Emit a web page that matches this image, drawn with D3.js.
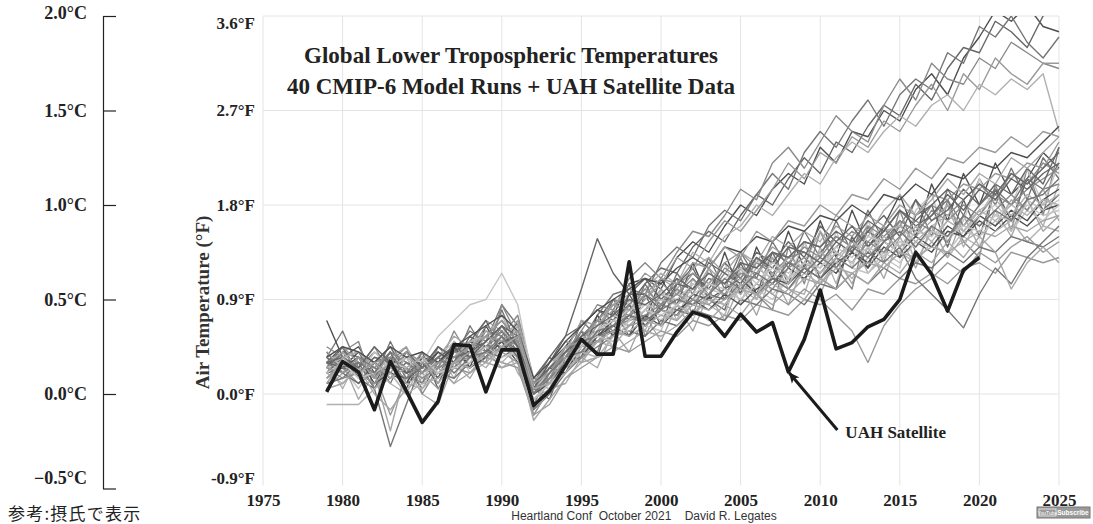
<!DOCTYPE html>
<html>
<head>
<meta charset="utf-8">
<script src="https://cdn.jsdelivr.net/npm/d3@7"></script>
<style>
  body { margin: 0; background: #fff; }
  svg { display: block; }
</style>
</head>
<body>
<svg id="chart" width="1093" height="524"></svg>
<script>
// ---- data (°F anomalies) ----
const firstYear = 1979;
const xTicks = [1975, 1980, 1985, 1990, 1995, 2000, 2005, 2010, 2015, 2020, 2025];
const fTicks = [-0.9, 0.0, 0.9, 1.8, 2.7, 3.6];
const cTicks = [-0.5, 0.0, 0.5, 1.0, 1.5, 2.0];

// UAH satellite, 1979-2020
const uah = [
  0.02, 0.31, 0.21, -0.15, 0.31, 0.03, -0.27, -0.07, 0.47, 0.46,
  0.02, 0.42, 0.42, -0.11, 0.03, 0.27, 0.52, 0.38, 0.38, 1.26,
  0.36, 0.36, 0.59, 0.78, 0.73, 0.55, 0.76, 0.59, 0.68, 0.21,
  0.52, 0.99, 0.43, 0.49, 0.64, 0.71, 0.90, 1.35, 1.14, 0.79,
  1.18, 1.30
];

// 40 CMIP-6 runs, 1979-2025
const modelRuns = [
  [.30,.45,.20,.10,.35,.25,.05,.30,.45,.40, .55,.70,.50,.05,.20,.45,.65,.80,.75,1.05, 1.10,1.00,1.30,1.45,1.35,1.60,1.80,1.70,1.95,2.10, 2.00,2.35,2.20,2.50,2.45,2.70,2.60,2.90,3.05,2.85, 3.20,3.40,3.65,3.55,3.70,3.50,3.45],
  [.20,.35,.40,.15,.30,.10,.20,.40,.30,.55, .45,.60,.35,.00,.25,.35,.55,.70,.90,.85, 1.05,1.20,1.15,1.40,1.55,1.45,1.70,1.90,1.80,2.05, 2.25,2.10,2.40,2.30,2.55,2.75,2.65,2.95,2.80,3.10, 3.30,3.25,3.55,3.45,3.30,3.60,3.80],
  [.40,.25,.35,.30,.10,.40,.30,.15,.40,.60, .50,.85,.65,.10,.15,.40,.50,.75,.95,1.00, .95,1.25,1.40,1.30,1.60,1.75,1.65,1.90,2.10,1.95, 2.30,2.50,2.35,2.60,2.80,2.55,2.85,3.00,2.90,3.25, 3.15,3.50,3.40,3.60,3.35,3.20,3.40],
  [.15,.30,.25,.45,.20,.15,.35,.25,.50,.35, .60,.55,.75,.15,.10,.30,.60,.85,.80,1.10, 1.25,1.10,1.35,1.55,1.50,1.70,1.95,1.85,2.20,2.35, 2.15,2.40,2.65,2.50,2.40,2.75,3.00,2.80,3.15,3.00, 2.95,3.20,3.10,3.35,3.25,3.15,3.10],
  [.35,.20,.30,.05,.25,.35,.10,.30,.40,.45, .70,.60,.40,.05,.30,.50,.45,.70,.85,.95, 1.15,1.05,1.30,1.20,1.45,1.65,1.55,1.75,1.95,2.20, 2.05,2.30,2.20,2.45,2.35,2.60,2.50,2.75,2.95,2.70, 3.05,2.90,3.20,3.05,2.95,3.15,3.15],
  [.25,.40,.15,.20,.40,.30,.20,.35,.25,.50, .55,.75,.45,.10,.05,.40,.55,.60,.90,.80, 1.00,1.15,1.05,1.35,1.25,1.50,1.60,1.80,1.70,1.90, 2.10,2.00,2.25,2.40,2.30,2.50,2.65,2.55,2.75,2.85, 2.70,2.95,2.85,3.00,2.90,3.05,2.50],
  [.35,.60,.25,.15,.50,.20,.10,.45,.30,.65, .40,.80,.45,.10,.35,.25,.70,.55,.90,.70, 1.05,.80,1.15,.95,1.30,1.00,1.35,1.10,1.45,1.20, 1.55,1.30,1.65,1.35,1.75,1.45,1.60,1.85,1.50,1.95, 1.70,2.05,1.80,2.15,1.85,2.25,2.05],
  [.10,.30,-.05,.20,-.35,.25,.00,-.10,.30,.15, .40,.25,.30,-.20,.05,.10,.35,.25,.60,.40, .75,.50,.85,.60,.95,.70,1.05,.75,1.15,.85, 1.25,.95,1.30,1.05,1.40,1.10,1.50,1.20,1.60,1.30, 1.70,1.40,1.75,1.50,1.85,1.55,1.70],
  [.70,.35,.45,.20,.40,.05,.35,.15,.50,.25, .65,.40,.70,.05,.30,.45,.35,.75,.55,.95, .70,1.10,.85,1.25,.90,1.35,.95,1.40,1.10,1.55, 1.20,1.65,1.30,1.75,1.40,1.60,1.90,1.50,2.00,1.65, 2.10,1.80,2.20,1.90,2.05,2.30,2.15],
  [.20,.40,.50,.05,.30,.45,.00,.25,.60,.35, .30,.85,.55,-.15,.15,.20,.50,.40,.80,1.05, .55,.85,1.10,.75,1.20,.90,1.30,.95,.80,1.40, 1.05,1.55,1.20,1.00,1.60,1.25,1.75,1.35,1.15,1.85, 1.45,1.30,2.00,1.55,2.15,1.70,2.35],
  [.30,.05,.35,.25,.10,.00,.30,.40,.15,.50, .35,.55,.20,.00,.25,.45,.30,.60,.45,.85, .60,1.00,.70,1.10,.85,.75,1.20,.90,1.30,1.00, .95,1.40,1.05,1.50,1.15,1.30,1.65,1.25,1.55,1.80, 1.40,1.70,1.95,1.55,1.85,1.60,2.00],
  [.25,.45,.15,.05,.35,.10,.40,.05,.30,.50, .70,.40,.55,.05,-.05,.35,.60,.35,.80,.55, .95,.65,1.05,1.20,.90,.80,1.25,.95,1.35,1.05, 1.45,1.10,1.00,1.50,1.20,1.60,1.30,1.70,1.80,1.40, 1.85,1.50,1.95,1.65,2.05,1.75,1.90],
  [.40,.25,.05,.30,.45,.15,.05,.35,.50,.20, .40,.65,.35,-.10,.20,.25,.50,.70,.45,.90, .65,.60,1.00,.70,1.05,1.25,.85,1.30,.95,1.10, 1.45,1.05,1.55,1.20,1.65,1.30,1.20,1.75,1.90,1.45, 1.65,2.05,1.70,1.80,2.15,1.80,2.20],
  [.15,.25,.10,.20,-.20,.15,.20,.05,.25,.20, .35,.30,.25,-.20,-.10,.15,.25,.35,.45,.40, .50,.60,.55,.70,.65,.75,.70,.85,.80,.75, .90,.85,.95,.80,1.00,.95,1.10,1.05,1.15,1.05, 1.20,1.25,1.15,1.35,1.30,1.25,1.30],
  [.25,.40,.35,.15,.40,.30,.25,.45,.35,.50, .40,.65,.45,.10,.20,.35,.55,.70,.60,.75, .95,.85,1.00,.90,1.10,1.05,1.20,1.15,1.35,1.25, 1.20,1.35,1.50,1.40,1.55,1.45,1.65,1.55,1.70,1.85, 1.60,1.80,1.95,1.80,2.05,1.95,2.20],
  [.05,.20,.30,.05,.15,.30,.15,.25,.10,.35, .55,.45,.65,.00,.10,.45,.35,.60,.75,.65, .80,1.00,.85,.95,1.20,1.05,.95,1.15,1.30,1.10, 1.25,1.55,1.35,1.25,1.45,1.60,1.40,1.50,1.65,1.80, 1.55,1.70,1.60,1.85,1.75,1.95,1.65],
  [.30,.25,.40,.30,.20,.10,.35,.30,.45,.25, .40,.50,.55,.05,.25,.20,.45,.55,.70,.85, .65,.80,.75,.95,.90,1.00,1.10,.95,1.05,1.20, 1.10,1.25,1.15,1.35,1.20,1.40,1.30,1.45,1.35,1.55, 1.50,1.65,1.55,1.70,1.60,1.75,1.80],
  [.45,.35,.25,.40,.30,.20,.40,.25,.35,.40, .65,.55,.35,-.10,.20,.40,.60,.50,.65,.80, .70,.95,.85,1.05,.95,1.15,1.05,1.25,1.15,1.30, 1.35,1.25,1.40,1.55,1.45,1.35,1.60,1.50,1.75,1.65, 1.80,1.70,1.90,1.80,1.95,2.05,2.15],
  [.20,.10,.25,.15,.30,.10,.05,.20,.30,.35, .25,.45,.35,-.05,.05,.30,.40,.50,.45,.65, .80,.70,.85,.75,.90,.85,1.00,.90,1.10,1.00, 1.15,1.05,1.25,1.10,1.30,1.20,1.35,1.25,1.45,1.30, 1.50,1.40,1.55,1.65,1.45,1.60,1.55],
  [.35,.20,.10,.30,.45,.20,.30,.10,.40,.50, .45,.60,.40,.15,.35,.55,.65,.80,.70,.95, 1.10,.90,1.05,1.15,1.00,1.25,1.10,1.35,1.25,1.45, 1.30,1.60,1.45,1.35,1.55,1.70,1.50,1.85,1.65,1.75, 1.95,1.80,2.00,1.90,2.15,2.00,2.35],
  [.25,.30,.20,.35,.25,.35,.15,.35,.20,.30, .50,.40,.50,.05,.20,.25,.50,.60,.75,.70, .85,.80,.70,.90,1.00,.95,1.10,1.00,.90,1.10, 1.20,1.10,1.30,1.20,1.15,1.35,1.25,1.45,1.40,1.35, 1.55,1.50,1.65,1.55,1.75,1.65,1.80],
  [.35,.45,.30,.25,.20,.40,.30,.40,.30,.45, .55,.70,.50,.00,.15,.40,.45,.65,.80,.75, .90,1.05,.95,1.15,1.05,1.25,1.35,1.20,1.40,1.30, 1.45,1.40,1.60,1.50,1.70,1.60,1.80,1.70,1.90,1.85, 2.00,1.95,2.10,2.05,2.20,2.15,2.40],
  [.10,.15,.30,.05,-.50,-.10,.30,.20,.15,.30, .40,.35,.45,-.15,.00,.20,.35,.45,.55,.60, .55,.70,.65,.80,.75,.70,.90,.85,1.00,.95, .85,1.05,1.00,1.15,1.05,1.20,1.10,1.25,1.20,1.35, 1.25,1.40,1.35,1.50,1.45,1.40,1.50],
  [.30,.40,.25,.20,.35,.45,.20,.35,.55,.45, .60,.50,.70,.10,.30,.40,.70,.65,.85,1.00, .90,1.10,1.00,1.20,1.30,1.15,1.35,1.25,1.50,1.40, 1.55,1.45,1.70,1.60,1.50,1.75,1.90,1.70,1.85,2.05, 1.90,2.10,2.00,2.25,2.15,2.30,2.45],
  [.20,.25,.35,.10,.20,.15,.25,.40,.30,.25, .35,.50,.30,.00,.10,.30,.35,.55,.65,.55, .75,.65,.80,.90,.80,.95,.85,1.00,1.10,1.05, 1.20,1.10,1.25,1.35,1.25,1.45,1.35,1.50,1.40,1.60, 1.50,1.70,1.60,1.75,1.65,1.85,1.95],
  [.40,.20,.30,.25,.40,.30,.20,.30,.40,.35, .45,.60,.45,.05,.25,.35,.55,.70,.65,.85, 1.00,.85,.95,1.10,.95,1.20,1.10,1.30,1.15,1.25, 1.40,1.30,1.50,1.40,1.60,1.50,1.65,1.55,1.80,1.70, 1.85,2.00,1.85,2.10,2.00,2.20,2.10],
  [.25,.35,.40,.25,.15,.35,.25,.20,.35,.50, .55,.45,.35,-.05,.10,.35,.40,.60,.70,.65, .80,.90,.85,1.00,1.15,1.05,1.00,1.20,1.10,1.30, 1.20,1.35,1.25,1.45,1.35,1.55,1.60,1.45,1.60,1.70, 1.60,1.75,1.85,1.70,1.90,1.80,1.90],
  [.30,.25,.20,.35,.30,.20,.25,.45,.35,.40, .50,.65,.55,.05,.30,.55,1.00,1.48,1.15,.95, .95,.80,1.05,1.00,1.25,1.15,1.05,1.30,1.20,1.40, 1.35,1.25,1.45,1.60,1.40,1.55,1.75,1.60,1.70,1.90, 1.75,1.95,1.85,2.05,1.95,2.10,2.20],
  [.20,.30,.15,.40,.25,.35,.30,.55,.70,.85, .90,1.15,.85,.10,.20,.30,.45,.60,.70,.80, .85,.95,.90,1.05,.95,1.10,1.20,1.05,1.25,1.15, 1.30,1.20,1.40,1.30,1.50,1.45,1.35,1.55,1.50,1.65, 1.55,1.70,1.80,1.65,1.85,1.75,1.85],
  [.15,.30,.20,.10,.25,.15,.30,.20,.30,.35, .45,.40,.30,-.20,.05,.25,.35,.50,.55,.65, .70,.80,.75,.90,.85,1.00,.90,1.05,.95,.85, 1.00,.90,.75,.60,.30,.65,.85,1.00,1.10,1.25, 1.15,1.35,1.25,1.40,1.50,1.35,1.45],
  [.30,.20,.35,.25,.15,.30,.20,.35,.25,.40, .35,.55,.40,.00,.15,.30,.50,.55,.60,.75, .65,.85,.80,.75,.95,.90,1.05,.95,1.10,1.00, 1.20,1.10,1.30,1.20,1.35,1.25,1.40,1.10,.95,.80, .63,.95,1.20,1.05,1.30,1.45,1.60],
  [.05,.10,.25,.00,-.15,.05,.15,.25,.10,.20, .30,.25,.35,-.25,-.05,.15,.30,.35,.40,.50, .60,.55,.65,.80,.70,.85,.75,.95,.85,1.00, .90,1.10,1.00,1.15,1.05,1.25,1.15,1.35,1.25,1.45, 1.30,1.50,1.35,1.00,1.25,1.40,1.25],
  [.35,.45,.40,.30,.45,.35,.40,.30,.45,.55, .65,.75,.60,.15,.30,.50,.65,.80,.90,1.00, 1.10,1.05,1.20,1.30,1.20,1.40,1.35,1.50,1.45,1.60, 1.55,1.70,1.65,1.80,1.70,1.90,1.85,2.00,1.90,2.10, 2.05,2.20,2.15,2.30,2.25,2.40,2.55],
  [.25,.15,.20,.30,.35,.25,.15,.25,.30,.40, .35,.45,.50,.05,.15,.40,.45,.50,.65,.70, .75,.85,.95,.85,1.05,.95,1.15,1.10,1.00,1.20, 1.30,1.15,1.35,1.25,1.45,1.35,1.50,1.65,1.55,1.45, 1.70,1.60,1.75,1.90,1.75,1.95,2.00],
  [-.10,-.10,-.10,.05,.20,.00,.10,.15,.30,.25, .40,.30,.45,-.10,.05,.20,.40,.35,.55,.60, .70,.65,.85,.75,.95,.85,1.05,.95,1.15,1.05, 1.25,1.15,1.30,1.45,1.30,1.50,1.40,1.60,1.45,1.65, 1.55,1.75,1.65,1.80,1.70,1.85,1.80],
  [.30,.35,.25,.45,.30,.40,.25,.35,.45,.35, .50,.65,.45,.10,.25,.40,.55,.65,.75,.90, .85,.95,1.10,1.00,1.15,1.05,1.25,1.20,1.35,1.30, 1.45,1.40,1.55,1.45,1.65,1.55,1.75,1.65,1.80,1.95, 1.85,2.00,1.90,2.10,2.00,2.15,2.30],
  [.20,.30,.15,.20,.30,.25,.35,.20,.25,.30, .45,.35,.40,-.05,.10,.25,.45,.55,.50,.70, .80,.75,.85,.95,1.05,1.00,.90,1.05,1.20,1.10, 1.25,1.20,1.35,1.25,1.40,1.30,1.45,1.40,1.55,1.50, 1.60,1.55,1.70,1.65,1.80,1.70,1.75],
  [.25,.20,.35,.15,.30,.40,.20,.30,.35,.45, .55,.50,.60,.10,.20,.45,.50,.70,.85,.80, .95,1.10,1.05,1.25,1.20,1.40,1.30,1.55,1.45,1.65, 1.60,1.80,1.70,1.90,1.85,2.05,1.95,2.15,2.05,2.25, 2.20,2.35,2.30,2.45,2.35,2.50,2.45],
  [.35,.25,.30,.20,.40,.15,.25,.35,.20,.35, .40,.55,.35,.00,.20,.35,.40,.60,.65,.75, .70,.80,.90,.85,.95,1.10,1.00,1.15,1.05,1.25, 1.15,1.30,1.20,1.40,1.30,1.45,1.55,1.40,1.60,1.50, 1.70,1.60,1.75,1.65,1.85,1.90,2.05],
  [.10,.35,.20,.30,.15,.25,.35,.10,.30,.40, .30,.45,.55,.05,.10,.35,.30,.50,.60,.55, .65,.75,.70,.85,.80,.90,1.00,.95,1.05,.95, 1.10,1.05,1.20,1.15,1.25,1.20,1.35,1.30,1.40,1.35, 1.45,1.55,1.50,1.60,1.55,1.65,1.70]
];

const greys = ["#4e4e4e", "#8a8a8a", "#b0b0b0", "#666666", "#c4c4c4", "#999999", "#767676", "#a6a6a6"];

// ---- layout ----
const svg = d3.select("#chart");
const plotLeft = 263, plotRight = 1059, plotTop = 16, plotBottom = 488.5;
const serif = "'Liberation Serif', 'Times New Roman', serif";

const x = d3.scaleLinear().domain([1975, 2025]).range([plotLeft, plotRight]);
const y = d3.scaleLinear().domain([-0.9, 3.6]).range([plotBottom, plotTop]);
const yC = d3.scaleLinear().domain([-0.5, 2.0]).range([plotBottom, plotTop]);

svg.append("rect").attr("width", 1093).attr("height", 524).attr("fill", "#fff");

// gridlines
const grid = svg.append("g").attr("stroke", "#e4e4e4").attr("stroke-width", 1);
grid.selectAll("line.v").data(xTicks).join("line")
  .attr("class", "v")
  .attr("x1", d => x(d)).attr("x2", d => x(d))
  .attr("y1", plotTop).attr("y2", plotBottom - 3);
grid.selectAll("line.h").data(fTicks.filter(d => d > -0.9)).join("line")
  .attr("class", "h")
  .attr("x1", plotLeft).attr("x2", plotRight)
  .attr("y1", d => y(d)).attr("y2", d => y(d));

// clip to plot
svg.append("clipPath").attr("id", "plotClip")
  .append("rect").attr("x", plotLeft).attr("y", plotTop)
  .attr("width", plotRight - plotLeft + 2).attr("height", plotBottom - plotTop);

const line = d3.line()
  .x((d, i) => x(firstYear + i))
  .y(d => y(d));

const runs = svg.append("g").attr("clip-path", "url(#plotClip)")
  .attr("fill", "none").attr("stroke-linejoin", "round");

runs.selectAll("path.run").data(modelRuns).join("path")
  .attr("class", "run")
  .attr("stroke", (d, i) => i < 6 ? greys[[0, 3, 6, 1, 5, 2][i]] : greys[i % greys.length])
  .attr("stroke-width", 1.4)
  .attr("d", line);

runs.append("path")
  .datum(uah)
  .attr("stroke", "#1b1b1b")
  .attr("stroke-width", 3.6)
  .attr("d", line);

// °F axis (left of plot)
const fAxis = svg.append("g")
  .attr("transform", `translate(${plotLeft},0)`)
  .call(d3.axisLeft(y).tickValues(fTicks).tickSize(0).tickPadding(8)
    .tickFormat(d => d.toFixed(1) + "°F"));
fAxis.select(".domain").remove();
fAxis.selectAll("text")
  .attr("font-family", serif).attr("font-size", 17).attr("font-weight", "bold").attr("fill", "#222")
  .attr("dy", d => d === 3.6 ? "0.75em" : d === -0.9 ? "-0.3em" : "0.32em");

// year axis
const xAxis = svg.append("g")
  .attr("transform", `translate(0,${plotBottom})`)
  .call(d3.axisBottom(x).tickValues(xTicks).tickSize(0).tickPadding(5).tickFormat(d3.format("d")));
xAxis.select(".domain").remove();
xAxis.selectAll("text")
  .attr("font-family", serif).attr("font-size", 17).attr("font-weight", "bold").attr("fill", "#222");

// y title
svg.append("text")
  .attr("transform", `translate(209,${(y(0) + y(1.8)) / 2 + 3}) rotate(-90)`)
  .attr("text-anchor", "middle")
  .attr("font-family", serif).attr("font-size", 19).attr("font-weight", "bold").attr("fill", "#333")
  .text("Air Temperature (°F)");

// title
const title = svg.append("text")
  .attr("text-anchor", "middle")
  .attr("font-family", serif).attr("font-size", 23).attr("font-weight", "bold").attr("fill", "#222");
title.append("tspan").attr("x", 511).attr("y", 63).text("Global Lower Tropospheric Temperatures");
title.append("tspan").attr("x", 511).attr("y", 94).text("40 CMIP-6 Model Runs + UAH Satellite Data");

// annotation arrow to the 2008 UAH point
const tipYear = 2008;
const tip = [x(tipYear), y(uah[tipYear - firstYear])];
svg.append("defs").append("marker")
  .attr("id", "arrowHead").attr("viewBox", "0 -6 12 12")
  .attr("refX", 10).attr("refY", 0)
  .attr("markerWidth", 12).attr("markerHeight", 12)
  .attr("markerUnits", "userSpaceOnUse")
  .attr("orient", "auto")
  .append("path").attr("d", "M0,-5L11,0L0,5L3,0Z").attr("fill", "#1b1b1b");
svg.append("line")
  .attr("x1", tip[0] + 49).attr("y1", tip[1] + 58)
  .attr("x2", tip[0] + 1).attr("y2", tip[1] + 1)
  .attr("stroke", "#1b1b1b").attr("stroke-width", 3)
  .attr("marker-end", "url(#arrowHead)");
svg.append("text")
  .attr("x", tip[0] + 57).attr("y", tip[1] + 66)
  .attr("font-family", serif).attr("font-size", 17).attr("font-weight", "bold").attr("fill", "#222")
  .text("UAH Satellite");

// °C reference axis at far left
const cAxis = svg.append("g")
  .attr("transform", "translate(103,0)")
  .call(d3.axisRight(yC).tickValues(cTicks).tickSize(13).tickSizeOuter(0)
    .tickFormat(d => (d < 0 ? "−" : "") + Math.abs(d).toFixed(1) + "°C"));
cAxis.select(".domain").attr("stroke", "#222").attr("stroke-width", 1.2);
cAxis.selectAll(".tick line").attr("stroke", "#222").attr("stroke-width", 1.2);
cAxis.selectAll("text")
  .attr("x", -16).attr("text-anchor", "end")
  .attr("font-family", serif).attr("font-size", 18).attr("font-weight", "bold").attr("fill", "#222")
  .attr("dy", d => d === 2.0 ? "0.15em" : d === -0.5 ? "-0.3em" : "0.32em");

svg.append("text")
  .attr("x", 8).attr("y", 520)
  .attr("font-family", "'Noto Sans CJK JP', sans-serif").attr("font-size", 17)
  .attr("letter-spacing", 1.2).attr("fill", "#222")
  .text("参考:摂氏で表示");

// credit line
svg.append("text")
  .attr("x", 644).attr("y", 520).attr("text-anchor", "middle")
  .attr("font-family", "'Liberation Sans Narrow', 'Liberation Sans', sans-serif")
  .attr("font-size", 12).attr("fill", "#333")
  .attr("xml:space", "preserve")
  .text("Heartland Conf  October 2021    David R. Legates");

// small subscribe badge
const badge = svg.append("g").attr("transform", "translate(1037,507)");
badge.append("rect").attr("width", 53).attr("height", 11).attr("fill", "#9a9a9a").attr("stroke", "#777");
badge.append("rect").attr("x", 2).attr("y", 2).attr("width", 17).attr("height", 7).attr("fill", "none").attr("stroke", "#eee").attr("stroke-width", 0.8);
badge.append("text").attr("x", 10.5).attr("y", 7.5).attr("text-anchor", "middle")
  .attr("font-family", "'Liberation Sans', sans-serif").attr("font-size", 5).attr("fill", "#fff").text("YouTube");
badge.append("text").attr("x", 36).attr("y", 8).attr("text-anchor", "middle")
  .attr("font-family", "'Liberation Sans', sans-serif").attr("font-size", 6.5).attr("font-weight", "bold").attr("fill", "#fff").text("Subscribe");
</script>
</body>
</html>
